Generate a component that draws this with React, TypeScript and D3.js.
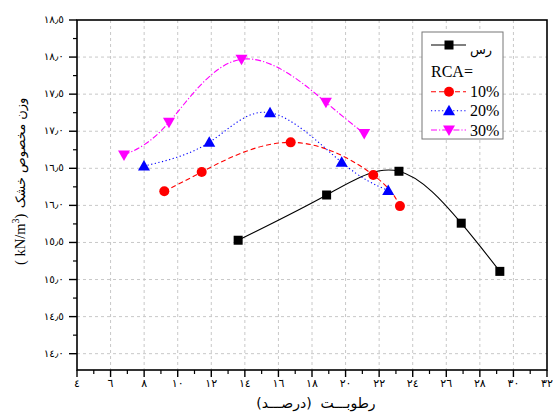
import React from "react";
import * as d3 from "d3";

const clayX = [13.6, 18.87, 23.18, 26.89, 29.19];
const clayY = [15.53, 16.14, 16.46, 15.76, 15.11];
const rca10X = [9.2, 11.43, 16.73, 21.65, 23.24];
const rca10Y = [16.19, 16.45, 16.85, 16.41, 15.99];
const rca20X = [7.99, 11.88, 15.5, 19.77, 22.54];
const rca20Y = [16.53, 16.85, 17.25, 16.58, 16.2];
const rca30X = [6.8, 9.48, 13.8, 18.83, 21.11];
const rca30Y = [16.68, 17.12, 17.97, 17.39, 16.97];

const xTicks = [4, 6, 8, 10, 12, 14, 16, 18, 20, 22, 24, 26, 28, 30, 32];
const yTicks = [14.0, 14.5, 15.0, 15.5, 16.0, 16.5, 17.0, 17.5, 18.0, 18.5];
const legendLabels = ["رس", "10%", "20%", "30%"];
const xTitle = ["رطوبـــت", "(درصـــد)"];
const yTitlePersian = "وزن مخصوص خشک";

const toArabic = (s: string) =>
  s.replace(/[0-9]/g, (d) => String.fromCharCode(0x0660 + Number(d))).replace(".", "٫");

const W = 556, H = 414;
const L = 77, R = 547, T = 20, B = 370;

export default function App() {
  const x = d3.scaleLinear().domain([4, 32]).range([L, R]);
  const y = d3.scaleLinear().domain([13.78, 18.5]).range([B, T]);
  const line = d3
    .line<[number, number]>()
    .x((d) => x(d[0]))
    .y((d) => y(d[1]))
    .curve(d3.curveNatural);

  const series = [
    { xs: clayX, ys: clayY, color: "#000000", dash: "", marker: "square" },
    { xs: rca10X, ys: rca10Y, color: "#ff0000", dash: "5,3", marker: "circle" },
    { xs: rca20X, ys: rca20Y, color: "#0000ff", dash: "1.2,2.5", marker: "up" },
    { xs: rca30X, ys: rca30Y, color: "#ff00ff", dash: "6,2,1.2,2", marker: "down" },
  ];

  const marker = (type: string, cx: number, cy: number, color: string, key: any) => {
    if (type === "square")
      return <rect key={key} x={cx - 4.5} y={cy - 4.5} width={9} height={9} fill={color} />;
    if (type === "circle") return <circle key={key} cx={cx} cy={cy} r={5} fill={color} />;
    const s = 6;
    if (type === "up")
      return (
        <path key={key} d={`M${cx},${cy - s}L${cx + s},${cy + s * 0.75}L${cx - s},${cy + s * 0.75}Z`} fill={color} />
      );
    return (
      <path key={key} d={`M${cx},${cy + s}L${cx + s},${cy - s * 0.75}L${cx - s},${cy - s * 0.75}Z`} fill={color} />
    );
  };

  const xMinor = d3.range(5, 32, 2);
  const yMinor = d3.range(14.25, 18.5, 0.5);
  const arabicFont = "'DejaVu Sans', sans-serif";
  const serif = "'Liberation Serif', 'Times New Roman', serif";

  const legendRows = [45, 91.7, 110.7, 130];

  return (
    <svg width={W} height={H} style={{ position: "absolute", left: 0, top: 0, background: "#fff" }}>
      <rect x={0} y={0} width={W} height={H} fill="#fff" />
      {/* grid */}
      {xTicks.slice(1, -1).map((t) => (
        <line key={"gx" + t} x1={x(t)} x2={x(t)} y1={T} y2={B} stroke="#c8c8c8" strokeDasharray="3,3" strokeWidth={1} />
      ))}
      {yTicks.slice(0, -1).map((t) => (
        <line key={"gy" + t} x1={L} x2={R} y1={y(t)} y2={y(t)} stroke="#c8c8c8" strokeDasharray="3,3" strokeWidth={1} />
      ))}
      {/* series */}
      {series.map((s, i) => {
        const pts = s.xs.map((v, j) => [v, s.ys[j]] as [number, number]);
        return (
          <g key={"s" + i}>
            <path d={line(pts) || ""} fill="none" stroke={s.color} strokeWidth={1.1} strokeDasharray={s.dash} />
            {pts.map((p, j) => marker(s.marker, x(p[0]), y(p[1]), s.color, j))}
          </g>
        );
      })}
      {/* frame */}
      <rect x={L} y={T} width={R - L} height={B - T} fill="none" stroke="#000" strokeWidth={1.6} />
      {/* x ticks */}
      {xTicks.map((t) => (
        <g key={"xt" + t}>
          <line x1={x(t)} x2={x(t)} y1={B} y2={B + 7} stroke="#000" strokeWidth={1.4} />
          <text x={x(t)} y={B + 17} textAnchor="middle" fontSize={11} fontFamily={arabicFont} fill="#000">
            {toArabic(String(t))}
          </text>
        </g>
      ))}
      {xMinor.map((t) => (
        <line key={"xm" + t} x1={x(t)} x2={x(t)} y1={B} y2={B + 4} stroke="#000" strokeWidth={1.2} />
      ))}
      {/* y ticks */}
      {yTicks.map((t) => (
        <g key={"yt" + t}>
          <line x1={L - 8} x2={L} y1={y(t)} y2={y(t)} stroke="#000" strokeWidth={1.4} />
          <text x={L - 13} y={y(t) + 3} textAnchor="end" fontSize={10.5} fontFamily={arabicFont} fill="#000">
            {toArabic(t.toFixed(1))}
          </text>
        </g>
      ))}
      {yMinor.map((t) => (
        <line key={"ym" + t} x1={L - 4} x2={L} y1={y(t)} y2={y(t)} stroke="#000" strokeWidth={1.2} />
      ))}
      {/* x title (RTL: first word on the right) */}
      <text x={348} y={408} textAnchor="middle" fontSize={14} fontFamily={arabicFont} fill="#000">
        {xTitle[0]}
      </text>
      <text x={284} y={408} textAnchor="middle" fontSize={14} fontFamily={arabicFont} fill="#000">
        {xTitle[1]}
      </text>
      {/* y title */}
      <g transform="translate(25,0) rotate(-90)">
        <text x={-153} y={0} textAnchor="middle" fontSize={13} fontFamily={arabicFont} fill="#000">
          {yTitlePersian}
        </text>
        <text x={-265} y={0} textAnchor="start" fontSize={14.5} fontFamily={serif} fill="#000">
          ( kN/m<tspan dy={-6} fontSize={10}>3</tspan><tspan dy={6}>)</tspan>
        </text>
      </g>
      {/* legend */}
      <rect x={422} y={32} width={81} height={107} fill="#fff" stroke="#777" strokeWidth={1} />
      {series.map((s, i) => (
        <g key={"lg" + i}>
          <line x1={431} x2={466} y1={legendRows[i]} y2={legendRows[i]} stroke={s.color} strokeWidth={1.1} strokeDasharray={s.dash} />
          {marker(s.marker, 449, legendRows[i], s.color, "m")}
          {i === 0 ? (
            <text x={481} y={legendRows[i] + 9} textAnchor="middle" fontSize={13} fontFamily={arabicFont} fill="#000">
              {legendLabels[i]}
            </text>
          ) : (
            <text x={470} y={legendRows[i] + 5.5} fontSize={16} fontFamily={serif} fill="#000">
              {legendLabels[i]}
            </text>
          )}
        </g>
      ))}
      <text x={431} y={77} fontSize={16} fontFamily={serif} fill="#000">
        RCA=
      </text>
    </svg>
  );
}
